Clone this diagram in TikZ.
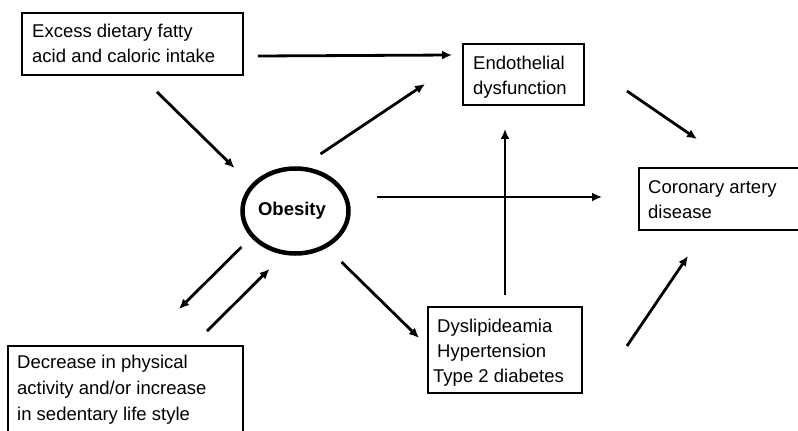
\documentclass[tikz,border=0pt]{standalone}
\usepackage{fontspec}
\setmainfont{Liberation Sans}
\usetikzlibrary{arrows.meta,shapes.geometric}
\tikzset{
  boxnode/.style={draw=black,line width=1.9pt,rectangle,inner sep=0pt},
  txt/.style={anchor=base west,inner sep=0pt,font=\fontsize{18.5}{25}\selectfont},
  arr/.style={line width=2.8pt,-{Latex[length=10pt,width=9pt]}}
}
\begin{document}
\begin{tikzpicture}[x=1pt,y=-1pt]
\useasboundingbox (0,0) rectangle (798,431);
\clip (0,0) rectangle (798,431);
% boxes
\node[boxnode,minimum width=221pt,minimum height=62pt] (ex) at (132.5,44) {};
\node[boxnode,minimum width=121pt,minimum height=61pt] (en) at (523.5,74.5) {};
\node[boxnode,minimum width=160pt,minimum height=62pt] (co) at (719,199) {};
\node[boxnode,minimum width=154pt,minimum height=86pt] (dy) at (505,350) {};
\node[boxnode,minimum width=235pt,minimum height=100pt] (de) at (125.5,396) {};
\node[draw=black,line width=4.5pt,ellipse,inner sep=0pt,minimum width=106pt,minimum height=85pt] (ob) at (295.5,211) {};
% texts
\node[txt] (t1) at (32,37) {Excess dietary fatty};
\node[txt] (t2) at (32,62) {acid and caloric intake};
\node[txt] (t3) at (473,69) {Endothelial};
\node[txt] (t4) at (473,94) {dysfunction};
\node[txt] (t5) at (648,193) {Coronary artery};
\node[txt] (t6) at (648,218) {disease};
\node[txt] (t7) at (437,332) {Dyslipideamia};
\node[txt] (t8) at (437,357) {Hypertension};
\node[txt] (t9) at (433,382) {Type 2 diabetes};
\node[txt] (t10) at (17,368) {Decrease in physical};
\node[txt] (t11) at (17,394) {activity and/or increase};
\node[txt] (t12) at (17,420) {in sedentary life style};
\node[anchor=base,inner sep=0pt,font=\fontsize{18.5}{25}\selectfont\bfseries] (tob) at (292,215) {Obesity};
% arrows
\draw[arr] ([shift={(14,12)}]ex.east) -- ([shift={(-10,-19.5)}]en.west);
\draw[arr] ([shift={(24.5,16)}]ex.south) -- ([shift={(-61,-43)}]ob.center);
\draw[arr] ([shift={(25,-57)}]ob.center) -- ([shift={(-37,9.5)}]en.west);
\draw[arr] ([shift={(81,-14)}]ob.center) -- ([shift={(-36,-2)}]co.west);
\draw[arr] ([shift={(0,-11)}]dy.north) -- ([shift={(-18.5,23)}]en.south);
\draw[arr] ([shift={(42,16.5)}]en.east) -- ([shift={(-22,-28)}]co.north);
\draw[arr] ([shift={(44,-4)}]dy.east) -- ([shift={(-31,25)}]co.south);
\draw[arr] ([shift={(46,51)}]ob.center) -- ([shift={(-8,-12)}]dy.west);
\draw[arr] ([shift={(-54,36)}]ob.center) -- ([shift={(53.5,-36)}]de.north);
\draw[arr] ([shift={(81.5,-14)}]de.north) -- ([shift={(-26,58)}]ob.center);
\end{tikzpicture}
\end{document}
